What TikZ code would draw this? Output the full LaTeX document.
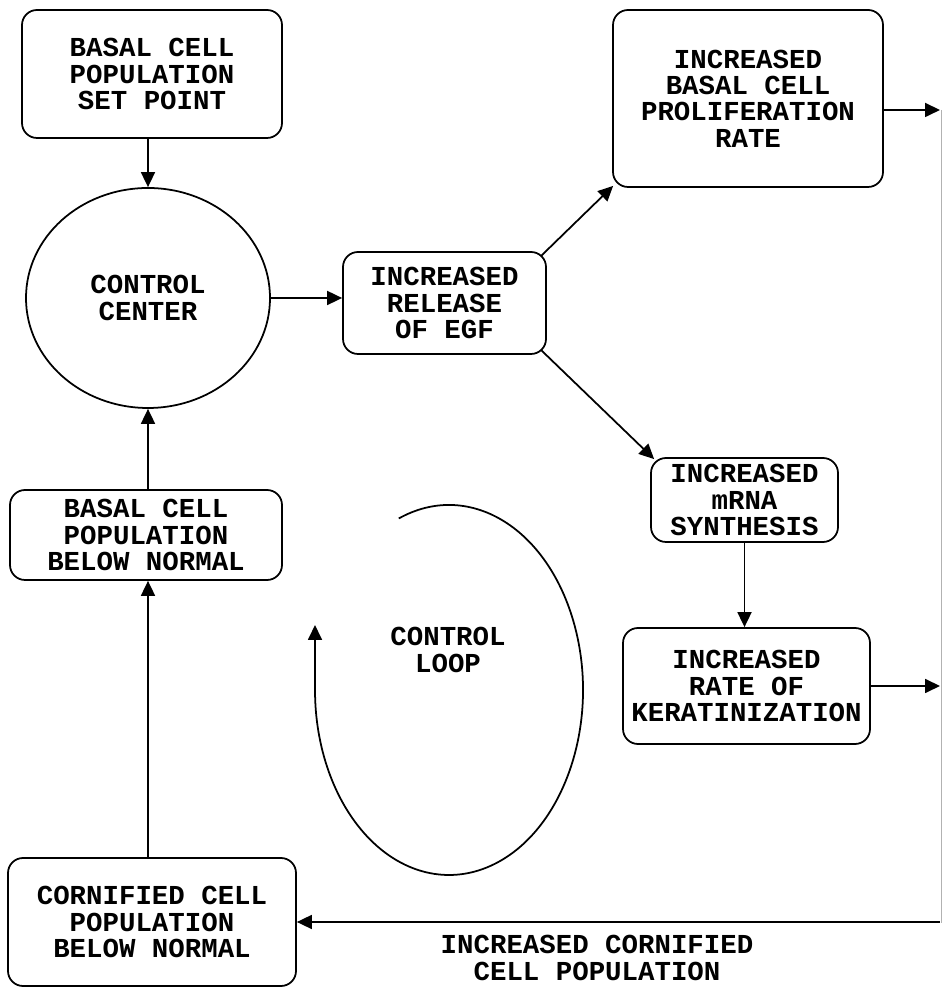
\documentclass[tikz,border=0pt]{standalone}
\usepackage{fontspec}
\setmainfont{Liberation Mono}
\usepackage{tikz}
\usetikzlibrary{arrows.meta, positioning, calc, shapes.geometric}

\tikzset{
  box/.style={draw, line width=1pt, rounded corners=0.3cm, align=center,
              font=\fontsize{15.6}{15}\selectfont\bfseries, inner sep=2pt},
  lbl/.style={align=center, font=\fontsize{15.6}{15}\selectfont\bfseries},
  arr/.style={line width=1pt, -{Triangle[length=0.3cm,width=0.28cm]}}
}

\begin{document}
\begin{tikzpicture}

\useasboundingbox (0,0) rectangle (18.84,19.78);

% ------------------------
% Left column
% ------------------------
\node[box, minimum width=5.2cm, minimum height=2.56cm] (setpt)
  at (3.04,18.30) {BASAL CELL\\POPULATION\\SET POINT};

\node[box, ellipse, rounded corners=0pt, minimum width=4.88cm, minimum height=4.4cm] (ctrl)
  at (2.96,13.82) {CONTROL\\CENTER};

\node[box, minimum width=5.44cm, minimum height=1.8cm] (below)
  at (2.92,9.08) {BASAL CELL\\POPULATION\\BELOW NORMAL};

\node[box, minimum width=5.76cm, minimum height=2.56cm] (corn)
  at (3.04,1.34) {CORNIFIED CELL\\POPULATION\\BELOW NORMAL};

% ------------------------
% Effectors
% ------------------------
\node[box, minimum width=4.06cm, minimum height=2.04cm] (egf)
  at (8.89,13.72) {INCREASED\\RELEASE\\OF EGF};

\node[box, minimum width=5.4cm, minimum height=3.54cm] (prolif)
  at (14.96,17.81) {INCREASED\\BASAL CELL\\PROLIFERATION\\RATE};

\node[box, minimum width=3.74cm, minimum height=1.68cm] (mrna)
  at (14.89,9.78) {INCREASED\\mRNA\\SYNTHESIS};

\node[box, minimum width=4.94cm, minimum height=2.32cm] (kera)
  at (14.93,6.06) {INCREASED\\RATE OF\\KERATINIZATION};

% Right edge collector
\coordinate (rtop) at (18.80,17.58);
\coordinate (rbot) at (18.80,1.32);
\draw[black!30, line width=0.6pt] (18.83,17.58) -- (18.83,1.32);

% ------------------------
% Connectors
% ------------------------
\draw[arr] (setpt.south -| ctrl.north) -- (ctrl.north);
\draw[arr] (ctrl.east) -- (ctrl.east -| egf.west);
\draw[arr] ([shift={(-0.12,-0.1)}]egf.north east) -- ([shift={(0.02,0.04)}]prolif.south west);
\draw[arr] ([shift={(-0.12,0.1)}]egf.south east) -- ([shift={(0.08,-0.04)}]mrna.north west);
\draw[arr] (mrna.south) -- (mrna.south |- kera.north);
\draw[arr] (prolif.east |- rtop) -- (rtop);
\draw[arr] (kera.east) -- (kera.east -| rtop);
\draw[arr] (rbot |- corn.east) -- (corn.east);
\draw[arr] (corn.north -| ctrl.south) -- (below.south -| ctrl.south);
\draw[arr] (below.north -| ctrl.south) -- (ctrl.south);

\node[lbl] (cornlbl) at (11.94,0.62) {INCREASED CORNIFIED\\CELL POPULATION};

% ------------------------
% Control loop
% ------------------------
\coordinate (loopc) at (8.98,5.98);
\node[lbl] (looplbl) at (8.96,6.78) {CONTROL\\LOOP};
\draw[arr] ([shift={(112:2.68cm and 3.7cm)}]loopc)
  arc[start angle=112, end angle=-180, x radius=2.68cm, y radius=3.7cm]
  -- ++(0,1.3);

\end{tikzpicture}
\end{document}
